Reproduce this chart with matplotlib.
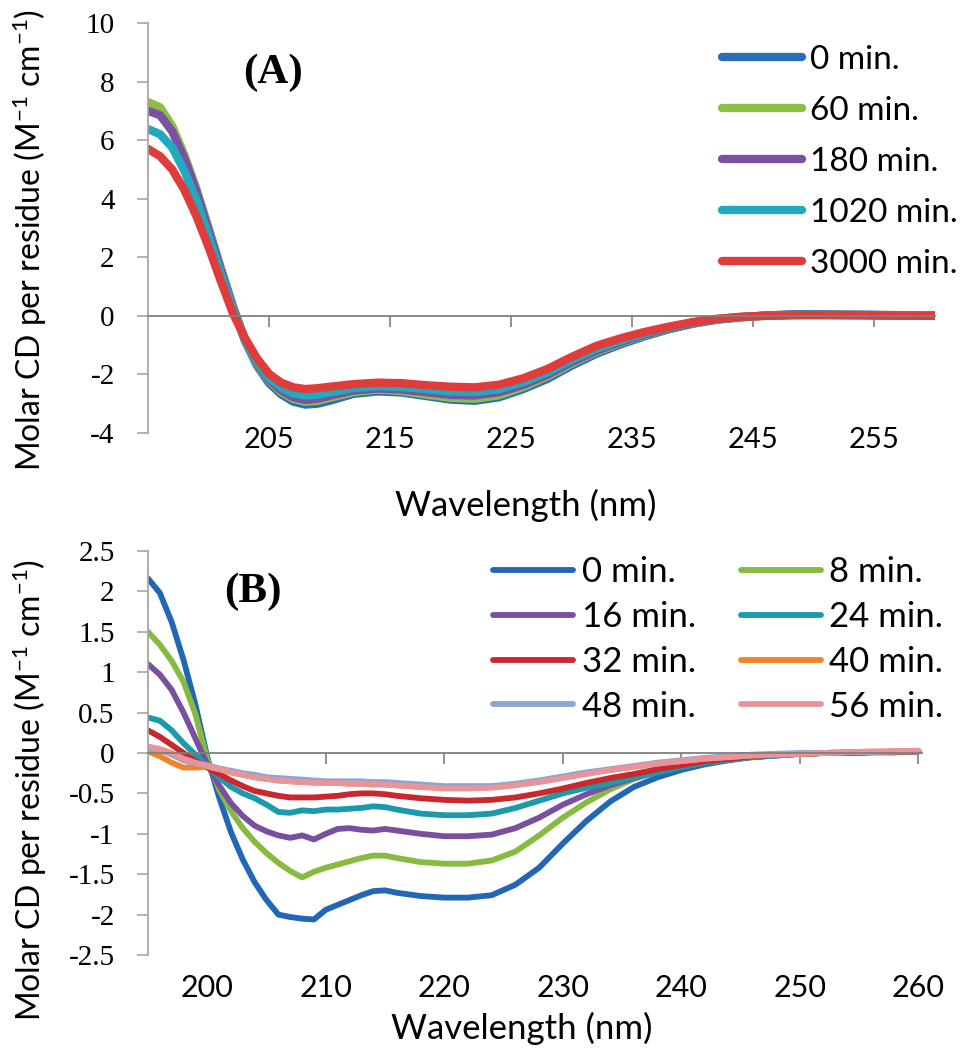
import numpy as np
import matplotlib
matplotlib.use("Agg")
import matplotlib.pyplot as plt

plt.rcParams['axes.unicode_minus'] = False
plt.rcParams['mathtext.fontset'] = 'custom'
plt.rcParams['mathtext.rm'] = 'Lato'
plt.rcParams['mathtext.default'] = 'regular'

# ---- panel A data (wavelength nm, molar CD per residue) ----
wl_a = list(range(195, 211)) + list(range(212, 261, 2))
labels_a = ['0 min.', '60 min.', '180 min.', '1020 min.', '3000 min.']
cd_a_0 = [7.10, 6.95, 6.40, 5.45, 4.30, 3.00, 1.65, 0.35, -0.85, -1.70, -2.30, -2.68, -2.93, -3.03, -3.00, -2.90,
          -2.66, -2.58, -2.62, -2.74, -2.86, -2.90, -2.78, -2.50, -2.15, -1.70, -1.30, -0.98, -0.70, -0.46, -0.27,
          -0.13, -0.05, 0.01, 0.05, 0.06, 0.05, 0.04, 0.03, 0.02, 0.01]
cd_a_60 = [7.30, 7.12, 6.48, 5.50, 4.33, 2.98, 1.62, 0.33, -0.82, -1.65, -2.22, -2.60, -2.84, -2.93, -2.90, -2.80,
           -2.60, -2.52, -2.57, -2.69, -2.80, -2.83, -2.71, -2.43, -2.07, -1.63, -1.24, -0.93, -0.66, -0.44, -0.26,
           -0.13, -0.05, 0.00, 0.03, 0.04, 0.04, 0.03, 0.02, 0.02, 0.01]
cd_a_180 = [7.00, 6.85, 6.30, 5.38, 4.25, 2.92, 1.58, 0.30, -0.80, -1.62, -2.18, -2.55, -2.78, -2.87, -2.83, -2.73,
            -2.55, -2.48, -2.52, -2.61, -2.70, -2.72, -2.61, -2.36, -2.01, -1.58, -1.20, -0.90, -0.64, -0.43, -0.25,
            -0.12, -0.04, 0.01, 0.03, 0.04, 0.03, 0.03, 0.02, 0.01, 0.01]
cd_a_1020 = [6.38, 6.20, 5.75, 4.95, 3.95, 2.72, 1.45, 0.25, -0.80, -1.58, -2.12, -2.45, -2.65, -2.72, -2.69, -2.61,
             -2.46, -2.40, -2.43, -2.50, -2.58, -2.60, -2.50, -2.26, -1.93, -1.50, -1.13, -0.85, -0.60, -0.40, -0.23,
             -0.11, -0.04, 0.01, 0.03, 0.04, 0.03, 0.02, 0.02, 0.01, 0.01]
cd_a_3000 = [5.70, 5.45, 5.00, 4.30, 3.40, 2.35, 1.20, 0.10, -0.75, -1.45, -1.98, -2.28, -2.44, -2.50, -2.47, -2.42,
             -2.33, -2.28, -2.30, -2.37, -2.42, -2.44, -2.35, -2.13, -1.81, -1.40, -1.03, -0.77, -0.55, -0.37, -0.21,
             -0.10, -0.03, 0.00, 0.02, 0.02, 0.02, 0.02, 0.01, 0.01, 0.00]
colors_a = ['#2a6ebb', '#8cbf44', '#7b52a3', '#21a9c0', '#e03c3c']
xticks_a = [205, 215, 225, 235, 245, 255]
yticks_a = [-4, -2, 0, 2, 4, 6, 8, 10]

# ---- panel B data ----
wl_b = list(range(195, 217)) + list(range(218, 261, 2))
labels_b = ['0 min.', '8 min.', '16 min.', '24 min.', '32 min.', '40 min.', '48 min.', '56 min.']
cd_b_0 = [2.16, 1.98, 1.62, 1.15, 0.60, -0.05, -0.55, -0.98, -1.32, -1.60, -1.82, -2.00, -2.03, -2.05, -2.06, -1.94,
          -1.88, -1.82, -1.76, -1.71, -1.70, -1.73,
          -1.77, -1.79, -1.79, -1.76, -1.63, -1.42, -1.12, -0.84, -0.60, -0.42, -0.30, -0.21, -0.14, -0.09, -0.05,
          -0.03, -0.01, 0.00, 0.00, 0.01, 0.01, 0.02]
cd_b_8 = [1.50, 1.34, 1.14, 0.88, 0.48, -0.08, -0.45, -0.72, -0.93, -1.10, -1.24, -1.36, -1.46, -1.54, -1.47, -1.42,
          -1.38, -1.34, -1.30, -1.27, -1.27, -1.30,
          -1.35, -1.37, -1.37, -1.33, -1.22, -1.02, -0.80, -0.61, -0.45, -0.32, -0.23, -0.17, -0.12, -0.08, -0.05,
          -0.03, -0.01, 0.00, 0.00, 0.01, 0.01, 0.02]
cd_b_16 = [1.10, 0.97, 0.78, 0.50, 0.18, -0.14, -0.40, -0.62, -0.78, -0.90, -0.97, -1.02, -1.05, -1.02, -1.07, -1.00,
           -0.94, -0.93, -0.95, -0.96, -0.94, -0.96,
           -1.00, -1.03, -1.03, -1.01, -0.93, -0.80, -0.64, -0.51, -0.40, -0.31, -0.23, -0.16, -0.12, -0.08, -0.05,
           -0.03, -0.01, 0.00, 0.00, 0.01, 0.01, 0.02]
cd_b_24 = [0.44, 0.40, 0.28, 0.12, -0.02, -0.16, -0.30, -0.42, -0.50, -0.56, -0.64, -0.73, -0.74, -0.71, -0.72, -0.70,
           -0.70, -0.69, -0.68, -0.66, -0.67, -0.70,
           -0.75, -0.77, -0.77, -0.75, -0.68, -0.59, -0.50, -0.43, -0.37, -0.30, -0.24, -0.17, -0.12, -0.08, -0.05,
           -0.03, -0.01, 0.00, 0.00, 0.01, 0.01, 0.02]
cd_b_32 = [0.28, 0.20, 0.10, 0.00, -0.10, -0.18, -0.26, -0.34, -0.41, -0.47, -0.50, -0.53, -0.55, -0.55, -0.55, -0.54,
           -0.53, -0.51, -0.50, -0.50, -0.51, -0.53,
           -0.56, -0.58, -0.59, -0.58, -0.55, -0.50, -0.44, -0.37, -0.31, -0.26, -0.20, -0.15, -0.10, -0.07, -0.04,
           -0.02, -0.01, 0.00, 0.00, 0.01, 0.01, 0.02]
cd_b_40 = [0.02, -0.04, -0.12, -0.18, -0.18, -0.17, -0.20, -0.24, -0.27, -0.30, -0.32, -0.34, -0.35, -0.36, -0.36, -0.37,
           -0.37, -0.38, -0.38, -0.39, -0.39, -0.40,
           -0.42, -0.43, -0.43, -0.42, -0.39, -0.35, -0.30, -0.25, -0.21, -0.17, -0.13, -0.10, -0.07, -0.05, -0.03,
           -0.02, -0.01, 0.00, 0.01, 0.01, 0.02, 0.02]
cd_b_48 = [0.06, 0.04, -0.02, -0.09, -0.13, -0.15, -0.19, -0.22, -0.25, -0.27, -0.30, -0.31, -0.32, -0.33, -0.34, -0.35,
           -0.35, -0.35, -0.35, -0.36, -0.36, -0.37,
           -0.39, -0.41, -0.41, -0.41, -0.38, -0.34, -0.29, -0.24, -0.20, -0.16, -0.12, -0.09, -0.06, -0.04, -0.02,
           -0.01, 0.00, 0.00, 0.01, 0.01, 0.02, 0.02]
cd_b_56 = [0.08, 0.05, 0.00, -0.07, -0.12, -0.16, -0.20, -0.24, -0.27, -0.30, -0.32, -0.34, -0.35, -0.36, -0.37, -0.37,
           -0.37, -0.38, -0.38, -0.38, -0.39, -0.40,
           -0.42, -0.44, -0.44, -0.43, -0.40, -0.36, -0.31, -0.26, -0.21, -0.17, -0.13, -0.10, -0.07, -0.05, -0.03,
           -0.02, -0.01, 0.00, 0.01, 0.02, 0.02, 0.03]
colors_b = ['#2267b5', '#86bb40', '#7a4fa0', '#1a9aaa', '#c8282e', '#f08428', '#8aa6d2', '#e8949a']
xticks_b = [200, 210, 220, 230, 240, 250, 260]
yticks_b = [-2.5, -2, -1.5, -1, -0.5, 0, 0.5, 1, 1.5, 2, 2.5]
ytick_labels_b = ['-2.5', '-2', '-1.5', '-1', '-0.5', '0', '0.5', '1', '1.5', '2', '2.5']

SANS = ['Lato', 'DejaVu Sans']
SERIF = ['Liberation Serif', 'DejaVu Serif']
axis_gray = '#7f7f7f'
ylab = 'Molar CD per residue (M$^{-1}$ cm$^{-1}$)'

W, H = 973, 1050
fig = plt.figure(figsize=(W / 100, H / 100), dpi=100)
ax1 = fig.add_axes([148 / W, 1 - 433 / H, (935 - 148) / W, (433 - 23) / H])
ax2 = fig.add_axes([148 / W, 1 - 955 / H, (922 - 148) / W, (955 - 551) / H])


def style_axes(ax):
    ax.spines['right'].set_visible(False)
    ax.spines['bottom'].set_visible(False)
    ax.spines['top'].set_position(('data', 0))
    ax.spines['top'].set_color(axis_gray)
    ax.spines['top'].set_linewidth(1.3)
    ax.spines['left'].set_color('#a6a6a6')
    ax.spines['left'].set_linewidth(1.3)
    ax.tick_params(axis='x', bottom=False, top=True, labelbottom=True, labeltop=False,
                   direction='in', length=8, width=1.2, color=axis_gray)
    ax.tick_params(axis='y', direction='out', length=8, width=1.2, color='#a6a6a6', pad=16)


# panel A
series_a = [cd_a_0, cd_a_60, cd_a_180, cd_a_1020, cd_a_3000]
for vals, lab, c in zip(series_a, labels_a, colors_a):
    ax1.plot(wl_a, vals, color=c, lw=6, label=lab, solid_capstyle='round')
ax1.set_xlim(195, 260)
ax1.set_ylim(-4, 10)
style_axes(ax1)
ax1.tick_params(axis='x', pad=-4.5)
ax1.set_xticks(xticks_a)
ax1.set_xticklabels([str(v) for v in xticks_a], family=SANS, fontsize=21)
ax1.set_yticks(yticks_a)
ax1.set_yticklabels([str(v) for v in yticks_a], family=SERIF, fontsize=21)
fig.text(273 / W, 1 - 73 / H, '(A)', ha='center', va='center', family=SERIF, fontweight='bold', fontsize=31)
fig.text(30 / W, 1 - 240 / H, ylab, rotation=90, ha='center', va='center', family=SANS, fontsize=23)
fig.text(526 / W, 1 - 505 / H, 'Wavelength (nm)', ha='center', va='center', family=SANS, fontsize=25)
ax1.legend(loc='upper left', bbox_to_anchor=(722 / W, 1 - 45 / H), bbox_transform=fig.transFigure,
           frameon=False, prop={'family': SANS, 'size': 24}, handlelength=2.4, handletextpad=0.25,
           labelspacing=0.63, borderpad=0, borderaxespad=0)

# panel B
series_b = [cd_b_0, cd_b_8, cd_b_16, cd_b_24, cd_b_32, cd_b_40, cd_b_48, cd_b_56]
handles = []
for vals, lab, c in zip(series_b, labels_b, colors_b):
    h, = ax2.plot(wl_b, vals, color=c, lw=4.2, label=lab, solid_capstyle='round')
    handles.append(h)
ax2.set_xlim(195, 260.3)
ax2.set_ylim(-2.5, 2.5)
style_axes(ax2)
ax2.tick_params(axis='x', pad=14)
ax2.set_xticks(xticks_b)
ax2.set_xticklabels([str(v) for v in xticks_b], family=SANS, fontsize=22)
ax2.set_yticks(yticks_b)
ax2.set_yticklabels(ytick_labels_b, family=SERIF, fontsize=21)
fig.text(253 / W, 1 - 592 / H, '(B)', ha='center', va='center', family=SERIF, fontweight='bold', fontsize=31)
fig.text(30 / W, 1 - 790 / H, ylab, rotation=90, ha='center', va='center', family=SANS, fontsize=23)
fig.text(522 / W, 1 - 1028 / H, 'Wavelength (nm)', ha='center', va='center', family=SANS, fontsize=25)
order = [0, 2, 4, 6, 1, 3, 5, 7]
ax2.legend([handles[i] for i in order], [labels_b[i] for i in order], ncol=2, loc='upper left',
           bbox_to_anchor=(493 / W, 1 - 556 / H), bbox_transform=fig.transFigure, frameon=False,
           prop={'family': SANS, 'size': 25}, handlelength=2.3, handletextpad=0.25, labelspacing=0.37,
           columnspacing=1.3, borderpad=0, borderaxespad=0)

fig.savefig('out.png', dpi=100)
